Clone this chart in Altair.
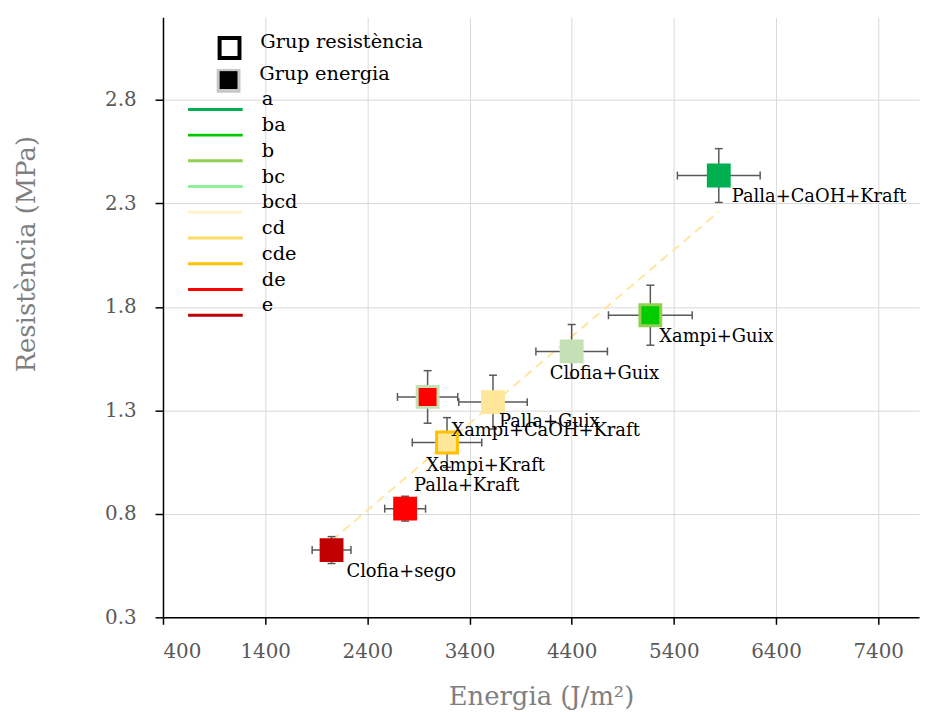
import altair as alt
import pandas as pd

# ---------------- data ----------------
noms = ["Palla+CaOH+Kraft", "Xampi+Guix", "Clofia+Guix", "Xampi+CaOH+Kraft",
        "Palla+Guix", "Xampi+Kraft", "Palla+Kraft", "Clofia+sego"]
energia = [5840, 5170, 4400, 2990, 3630, 3180, 2770, 2050]
energia_err = [405, 410, 350, 295, 335, 340, 200, 190]
resistencia = [2.435, 1.76, 1.585, 1.365, 1.34, 1.145, 0.825, 0.625]
resistencia_err = [0.13, 0.145, 0.13, 0.127, 0.13, 0.12, 0.06, 0.065]
grup_energia = ["a", "ba", "bc", "de", "cd", "cd", "de", "e"]
grup_resistencia = ["a", "b", "bc", "bc", "cd", "cde", "de", "e"]

lletres = ["a", "ba", "b", "bc", "bcd", "cd", "cde", "de", "e"]
colors_llegenda = ["#00B050", "#00C800", "#92D050", "#92EE98", "#FFF2CC",
                   "#FFD966", "#FFC000", "#FF0000", "#C00000"]
colors_punts = ["#00B050", "#00CC00", "#92D050", "#C5E0B4", "#FFF2CC",
                "#FFE699", "#FFC000", "#FF0000", "#C00000"]
grup_res_nom = ["Grup resistència"]
grup_ene_nom = ["Grup energia"]

x_ticks = [400, 1400, 2400, 3400, 4400, 5400, 6400, 7400]
y_ticks = [0.3, 0.8, 1.3, 1.8, 2.3, 2.8]

df = pd.DataFrame({
    "nom": noms, "energia": energia, "resist": resistencia,
    "ge": grup_energia, "gr": grup_resistencia,
})
df["e_lo"] = [e - d for e, d in zip(energia, energia_err)]
df["e_hi"] = [e + d for e, d in zip(energia, energia_err)]
df["r_lo"] = [r - d for r, d in zip(resistencia, resistencia_err)]
df["r_hi"] = [r + d for r, d in zip(resistencia, resistencia_err)]

FONT = "DejaVu Serif"
ERR = "#595959"

xs = alt.Scale(domain=[400, 7800], nice=False, zero=False)
ys = alt.Scale(domain=[0.3, 3.2], nice=False, zero=False)

x_axis = alt.Axis(values=x_ticks, format="d", grid=True, gridColor="#D9D9D9",
                  domainColor="black", domainWidth=1.5, tickColor="black",
                  tickSize=7, tickWidth=1.5, labelFont=FONT, labelFontSize=20,
                  labelColor="#595959", labelPadding=17,
                  title="Energia (J/m²)", titleFont=FONT, titleFontSize=26,
                  titleFontWeight="normal", titleColor="#7F7F7F",
                  titleY=80, titleBaseline="middle")
y_axis = alt.Axis(values=y_ticks, format=".1f", grid=True, gridColor="#D9D9D9",
                  domainColor="black", domainWidth=1.5, tickColor="black",
                  tickSize=8, tickWidth=1.5, labelFont=FONT, labelFontSize=20,
                  labelColor="#595959", labelPadding=19,
                  title="Resistència (MPa)", titleFont=FONT, titleFontSize=26,
                  titleFontWeight="normal", titleColor="#7F7F7F",
                  titleX=-137, titleY=238, titleBaseline="middle", titleAngle=-90)

base = alt.Chart(df)

trend = base.transform_regression("energia", "resist").mark_line(
    color="#FFE6A0", strokeDash=[9, 6], strokeWidth=2
).encode(x=alt.X("energia:Q", scale=xs, axis=x_axis),
         y=alt.Y("resist:Q", scale=ys, axis=y_axis))

err_h = base.mark_rule(color=ERR, strokeWidth=1.5).encode(
    x=alt.X("e_lo:Q", scale=xs), x2="e_hi:Q", y=alt.Y("resist:Q", scale=ys))
cap_h_lo = base.mark_rule(color=ERR, strokeWidth=1.5, yOffset=-4, y2Offset=4).encode(
    x=alt.X("e_lo:Q", scale=xs), y=alt.Y("resist:Q", scale=ys), y2="resist:Q")
cap_h_hi = base.mark_rule(color=ERR, strokeWidth=1.5, yOffset=-4, y2Offset=4).encode(
    x=alt.X("e_hi:Q", scale=xs), y=alt.Y("resist:Q", scale=ys), y2="resist:Q")
err_v = base.mark_rule(color=ERR, strokeWidth=1.5).encode(
    x=alt.X("energia:Q", scale=xs), y=alt.Y("r_lo:Q", scale=ys), y2="r_hi:Q")
cap_v_lo = base.mark_rule(color=ERR, strokeWidth=1.5, xOffset=-4, x2Offset=4).encode(
    x=alt.X("energia:Q", scale=xs), x2="energia:Q", y=alt.Y("r_lo:Q", scale=ys))
cap_v_hi = base.mark_rule(color=ERR, strokeWidth=1.5, xOffset=-4, x2Offset=4).encode(
    x=alt.X("energia:Q", scale=xs), x2="energia:Q", y=alt.Y("r_hi:Q", scale=ys))

points = base.mark_point(shape="square", filled=True, size=441, strokeWidth=3,
                         opacity=1).encode(
    x=alt.X("energia:Q", scale=xs), y=alt.Y("resist:Q", scale=ys),
    fill=alt.Fill("ge:N", scale=alt.Scale(domain=lletres, range=colors_punts), legend=None),
    stroke=alt.Stroke("gr:N", scale=alt.Scale(domain=lletres, range=colors_punts), legend=None),
)

label_offsets = {
    "Palla+CaOH+Kraft": (13, 22),
    "Xampi+Guix": (9, 22),
    "Clofia+Guix": (-22, 23),
    "Palla+Guix": (6, 20),
    "Xampi+CaOH+Kraft": (24, 34),
    "Xampi+Kraft": (-21, 24),
    "Palla+Kraft": (9, -23),
    "Clofia+sego": (15, 22),
}
labels = []
for nom in noms:
    dx, dy = label_offsets[nom]
    labels.append(
        base.transform_filter(alt.datum.nom == nom).mark_text(
            font=FONT, fontSize=18, color="black", align="left", baseline="middle",
            dx=dx, dy=dy
        ).encode(x=alt.X("energia:Q", scale=xs), y=alt.Y("resist:Q", scale=ys), text="nom:N")
    )

# ---------------- legends ----------------
leg_lines = alt.Chart(pd.DataFrame({"lletra": lletres})).mark_point(opacity=0).encode(
    stroke=alt.Stroke("lletra:N",
                      scale=alt.Scale(domain=lletres, range=colors_llegenda),
                      legend=alt.Legend(title=None, orient="none", legendX=43, legendY=83,
                                        padding=0, symbolType="M-5,0H5", symbolSize=121,
                                        symbolStrokeWidth=3, symbolOpacity=1,
                                        labelFont=FONT, labelFontSize=19.5,
                                        labelColor="black", labelOffset=37,
                                        labelBaseline="bottom", rowPadding=-1.1))
)

leg_res = alt.Chart(pd.DataFrame({"grup": grup_res_nom})).mark_point(
    filled=False, color="black", strokeWidth=4, opacity=0
).encode(
    shape=alt.Shape("grup:N", scale=alt.Scale(domain=grup_res_nom, range=["square"]),
                    legend=alt.Legend(title=None, orient="none", legendX=55, legendY=19,
                                      padding=0, symbolSize=400, symbolOpacity=1,
                                      symbolStrokeColor="black", symbolStrokeWidth=4,
                                      labelFont=FONT, labelFontSize=19.5, labelLimit=400,
                                      labelBaseline="alphabetic",
                                      labelColor="black", labelOffset=19, zindex=1))
)
# energy symbol: grey outer square drawn underneath a black inner square
leg_ene_back = alt.Chart(pd.DataFrame({"grup": grup_ene_nom})).mark_point(
    filled=True, color="#C8C8C8", opacity=0
).encode(
    shape=alt.Shape("grup:N", scale=alt.Scale(domain=grup_ene_nom, range=["square"]),
                    legend=alt.Legend(title=None, orient="none", legendX=53, legendY=51,
                                      padding=0, symbolSize=576, symbolOpacity=1,
                                      symbolFillColor="#C8C8C8",
                                      labelFont=FONT, labelFontSize=19.5, labelLimit=400,
                                      labelBaseline="alphabetic",
                                      labelOpacity=0, labelOffset=19, zindex=1))
)
leg_ene = alt.Chart(pd.DataFrame({"grup": grup_ene_nom})).mark_point(
    filled=True, color="black", opacity=0
).encode(
    shape=alt.Shape("grup:N", scale=alt.Scale(domain=grup_ene_nom, range=["square"]),
                    legend=alt.Legend(title=None, orient="none", legendX=56, legendY=53.25,
                                      padding=0, symbolSize=324, symbolOpacity=1,
                                      symbolFillColor="black",
                                      labelFont=FONT, labelFontSize=19.5, labelLimit=400,
                                      labelBaseline="alphabetic",
                                      labelColor="black", labelOffset=21, zindex=2))
)

chart = alt.layer(
    trend, err_h, cap_h_lo, cap_h_hi, err_v, cap_v_lo, cap_v_hi, points,
    *labels, leg_lines, leg_res, leg_ene_back, leg_ene
).resolve_scale(stroke="independent", shape="independent").properties(
    width=761, height=604,
    padding={"left": 5, "top": 7, "right": 5, "bottom": 0},
    background="white",
).configure_view(stroke=None)

chart.save("out.html", embed_options={"renderer": "svg", "actions": False})
